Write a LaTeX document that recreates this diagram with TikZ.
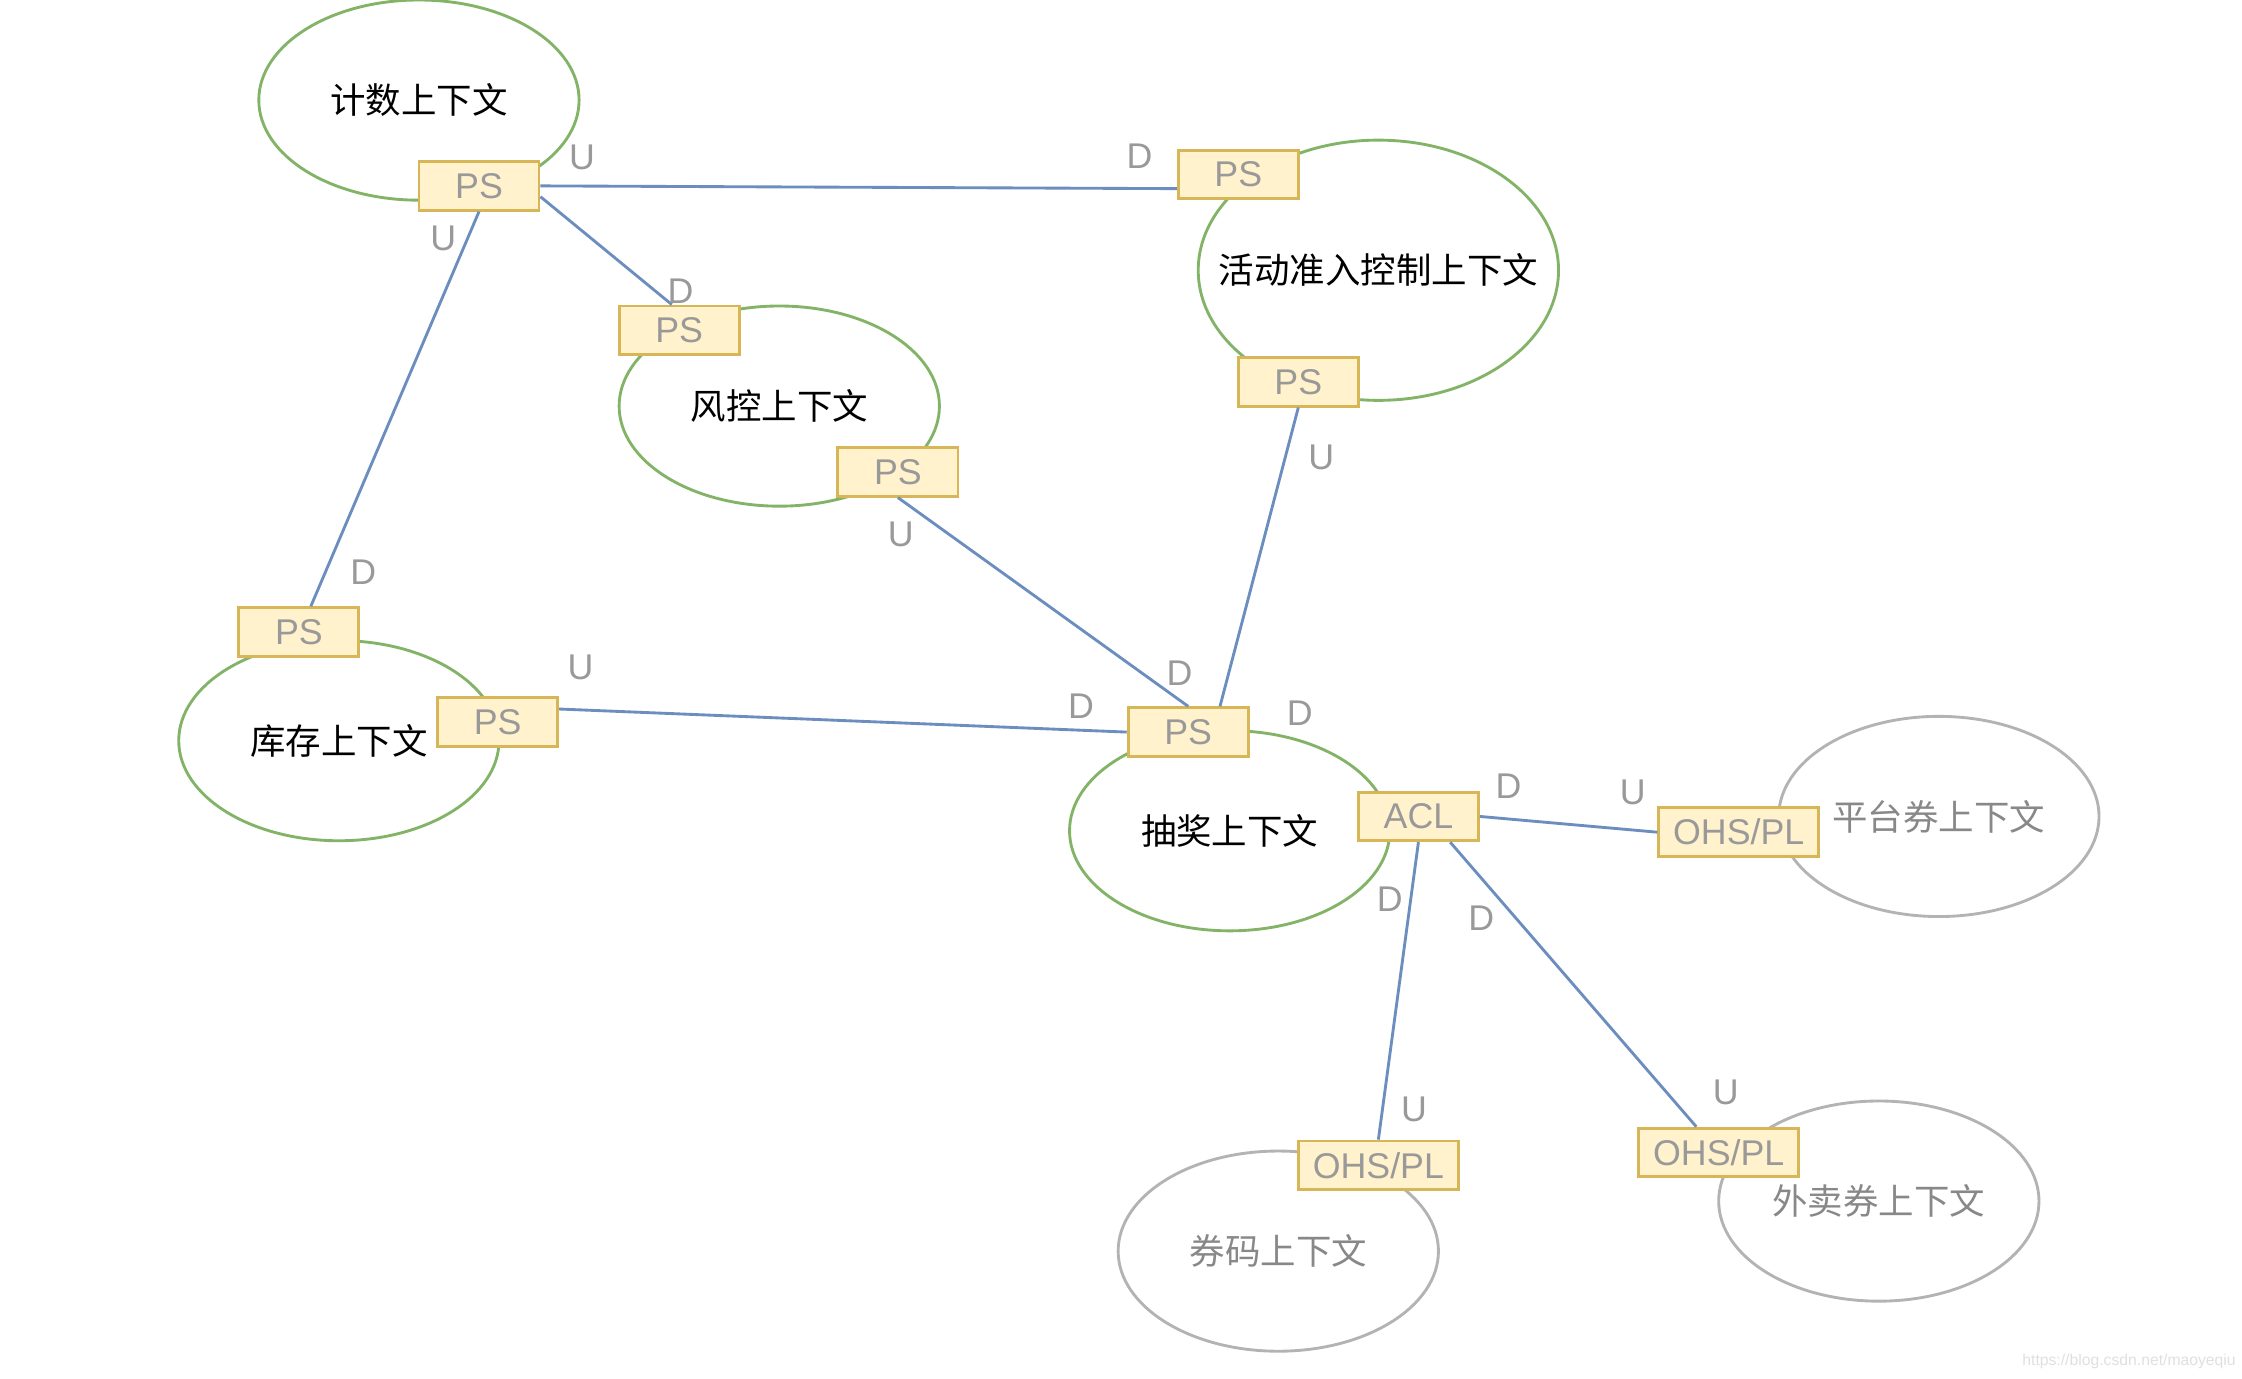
\documentclass[tikz,border=0pt]{standalone}
\usepackage{fontspec}
\setmainfont{Liberation Sans}
\newfontfamily\cjk{Noto Sans CJK SC}
\usetikzlibrary{shapes.geometric}
\definecolor{ctxgreen}{HTML}{82B366}
\definecolor{ctxgray}{HTML}{B3B3B3}
\definecolor{boxfill}{HTML}{FFF2CC}
\definecolor{boxdraw}{HTML}{D6B656}
\definecolor{linkblue}{HTML}{6C8EBF}
\definecolor{lblgray}{HTML}{999999}
\definecolor{ctxtextgray}{HTML}{888888}
\begin{document}
\begin{tikzpicture}[x=0.5pt,y=-0.5pt,
  ctxg/.style={ellipse, draw=ctxgreen, line width=1pt, fill=white, inner sep=0pt, minimum width=112pt, minimum height=70pt},
  ctxo/.style={ellipse, draw=ctxgray, line width=1pt, fill=white, inner sep=0pt, minimum width=112pt, minimum height=70pt},
  ctxtext/.style={font=\cjk\fontsize{12.4}{14}\selectfont, text=black, inner sep=0pt},
  ctxtextg/.style={font=\cjk\fontsize{12.4}{14}\selectfont, text=ctxtextgray, inner sep=0pt},
  pbox/.style={rectangle, draw=boxdraw, fill=boxfill, line width=1pt, inner sep=0pt, minimum width=42pt, minimum height=17pt, font=\fontsize{12.5}{14}\selectfont, text=lblgray},
  obox/.style={pbox, minimum width=56pt},
  link/.style={draw=linkblue, line width=1pt},
  lbl/.style={font=\fontsize{12.5}{14}\selectfont, text=lblgray, inner sep=0pt}
]
\useasboundingbox (0,0) rectangle (1568,964);
\fill[white] (0,0) rectangle (1568,964);

% contexts
\node[ctxg] (jishu) at (293,70) {};
\node[ctxtext] (tjishu) at (jishu.center) {计数上下文};
\node[ctxg, minimum width=126pt, minimum height=91pt] (huodong) at (964,189) {};
\node[ctxtext] (thuodong) at (huodong.center) {活动准入控制上下文};
\node[ctxg] (fengkong) at (545,284) {};
\node[ctxtext] (tfengkong) at (fengkong.center) {风控上下文};
\node[ctxg] (kucun) at (237,518) {};
\node[ctxtext] (tkucun) at (kucun.center) {库存上下文};
\node[ctxg] (choujiang) at (860,581) {};
\node[ctxtext] (tchoujiang) at (choujiang.center) {抽奖上下文};
\node[ctxo] (pingtai) at (1356,571) {};
\node[ctxtextg] (tpingtai) at (pingtai.center) {平台券上下文};
\node[ctxo] (waimai) at (1314,840) {};
\node[ctxtextg] (twaimai) at (waimai.center) {外卖券上下文};
\node[ctxo] (quanma) at (894,875) {};
\node[ctxtextg] (tquanma) at (quanma.center) {券码上下文};

% boxes
\node[pbox] (psJ) at (335,130) {PS};
\node[pbox] (psHt) at (866,122) {PS};
\node[pbox] (psHb) at (908,267) {PS};
\node[pbox] (psFt) at (475,231) {PS};
\node[pbox] (psFr) at (628,330) {PS};
\node[pbox] (psKt) at (209,442) {PS};
\node[pbox] (psKr) at (348,505) {PS};
\node[pbox] (psC) at (831,512) {PS};
\node[pbox] (acl) at (992,571) {ACL};
\node[obox] (ohsP) at (1216,582) {OHS/PL};
\node[obox] (ohsW) at (1202,806) {OHS/PL};
\node[obox] (ohsQ) at (964,815) {OHS/PL};

% links
\path[link] (psJ.east) -- (psHt.193);
\path[link] (psJ.-10) -- (psFt.106);
\path[link] (psJ.south) -- (psKt.65);
\path[link] (psFr.south) -- (psC.north);
\path[link] (psHb.south) -- (psC.39);
\path[link] (psKr.12) -- (psC.west);
\path[link] (acl.east) -- (ohsP.west);
\path[link] (acl.south) -- (ohsQ.north);
\path[link] (acl.-39) -- (ohsW.131);

% labels
\node[lbl] (l1) at (407,110) {U};
\node[lbl] (l2) at (310,167) {U};
\node[lbl] (l3) at (797,109) {D};
\node[lbl] (l4) at (476,204) {D};
\node[lbl] (l5) at (630,374) {U};
\node[lbl] (l6) at (924,320) {U};
\node[lbl] (l7) at (254,400) {D};
\node[lbl] (l8) at (406,467) {U};
\node[lbl] (l9) at (825,471) {D};
\node[lbl] (l10) at (756,494) {D};
\node[lbl] (l11) at (909,499) {D};
\node[lbl] (l12) at (1055,550) {D};
\node[lbl] (l13) at (972,629) {D};
\node[lbl] (l14) at (1036,642) {D};
\node[lbl] (l15) at (1142,554) {U};
\node[lbl] (l16) at (989,776) {U};
\node[lbl] (l17) at (1207,764) {U};

% watermark
\node[font=\fontsize{5.5}{6}\selectfont, text=black!12, inner sep=0pt, anchor=east] (wm) at (1564,952) {https://blog.csdn.net/maoyeqiu};
\end{tikzpicture}
\end{document}
